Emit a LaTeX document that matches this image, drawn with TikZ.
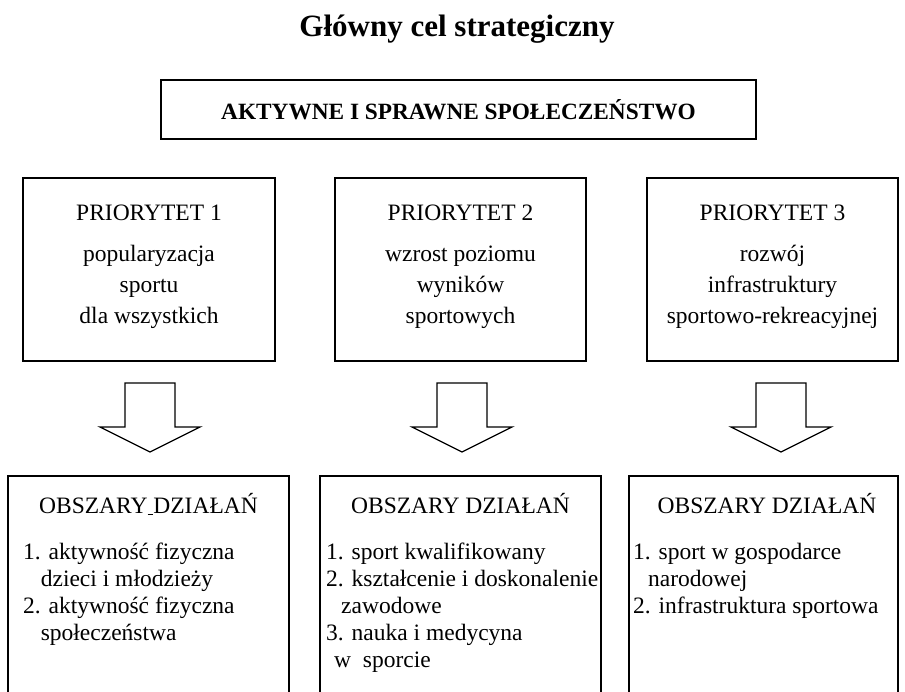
\documentclass[tikz,border=0pt]{standalone}
\usepackage{fontspec}
\setmainfont{Liberation Serif}
\usetikzlibrary{positioning}

\begin{document}
\begin{tikzpicture}[x=1pt,y=-1pt,
    box/.style={draw,line width=1.6pt,inner sep=0pt},
    txt/.style={inner sep=0pt,anchor=base,font=\fontsize{23.5}{27}\selectfont},
    prio/.style={txt,font=\fontsize{23.5}{31}\selectfont},
    list/.style={txt,anchor=base west},
    blockarrow/.style={draw,line width=1.3pt,line join=miter}]
  \useasboundingbox (0,0) rectangle (905,691);
  \clip (0,0) rectangle (905,691);
  % title and main goal
  \node[txt,font=\fontsize{31}{36}\bfseries] (T) at (457,36) {Główny cel strategiczny};
  \node[box,minimum width=595,minimum height=59] (G) at (458.5,109.5) {};
  \node[txt,font=\fontsize{23.3}{27}\bfseries] (Gt) at (458.5,119) {AKTYWNE I SPRAWNE SPOŁECZEŃSTWO};
  %
  \node[box,minimum width=252,minimum height=183] (P1) at (149,269.5) {};
  \node[box,minimum width=251,minimum height=183] (P2) at (460.5,269.5) {};
  \node[box,minimum width=251,minimum height=183] (P3) at (772.5,269.5) {};
  \node[prio] (P1t) at (149,220) {\begin{tabular}[t]{@{}c@{}}PRIORYTET 1\\[10pt] popularyzacja\\ sportu\\ dla wszystkich\end{tabular}};
  \node[prio] (P2t) at (460.5,220) {\begin{tabular}[t]{@{}c@{}}PRIORYTET 2\\[10pt] wzrost poziomu\\ wyników\\ sportowych\end{tabular}};
  \node[prio] (P3t) at (772.5,220) {\begin{tabular}[t]{@{}c@{}}PRIORYTET 3\\[10pt] rozwój\\ infrastruktury\\ sportowo-rekreacyjnej\end{tabular}};
  %
  \foreach \i/\x in {1/150,2/462,3/781} {
    \coordinate (A\i) at (\x,383);
    \draw[blockarrow] (A\i) ++(-25,0) -- ++(0,44) -- ++(-25,0) -- ++(50,25)
      -- ++(50,-25) -- ++(-25,0) -- ++(0,-44) -- cycle;
  }
  %
  \node[box,minimum width=281,minimum height=260,anchor=north] (O1) at (148.5,475) {};
  \node[box,minimum width=281,minimum height=260,anchor=north] (O2) at (460.5,475) {};
  \node[box,minimum width=269,minimum height=260,anchor=north] (O3) at (763.5,475) {};
  \node[txt] (O1h) at (148.5,513) {OBSZARY\underline{\ }DZIAŁAŃ};
  \node[txt] (O2h) at (460.5,513) {OBSZARY DZIAŁAŃ};
  \node[txt] (O3h) at (767,513) {OBSZARY DZIAŁAŃ};
  \node[list] (O1l) at (23,559) {\begin{tabular}[t]{@{}l@{}}1. aktywność fizyczna\\ \phantom{1.}dzieci i młodzieży\\ 2. aktywność fizyczna\\ \phantom{2.}społeczeństwa\end{tabular}};
  \node[list] (O2l) at (326,559) {\begin{tabular}[t]{@{}l@{}}1. sport kwalifikowany\\ 2. kształcenie i doskonalenie\\ \hspace{15pt}zawodowe\\ 3. nauka i medycyna\\ \hspace{8pt}w\ \ sporcie\end{tabular}};
  \node[list] (O3l) at (633,559) {\begin{tabular}[t]{@{}l@{}}1. sport w gospodarce\\ \hspace{15pt}narodowej\\ 2. infrastruktura sportowa\end{tabular}};
\end{tikzpicture}
\end{document}
